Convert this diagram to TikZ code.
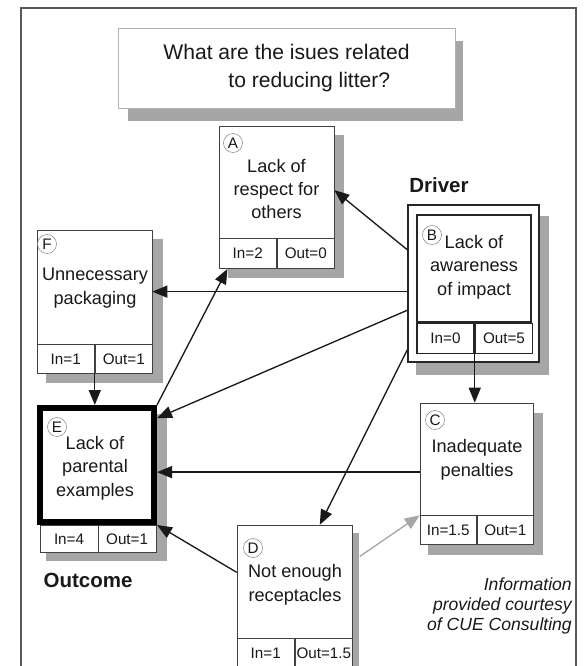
\documentclass[tikz,border=0pt]{standalone}
\usepackage{fontspec}
\setmainfont{Liberation Sans}
\usetikzlibrary{arrows.meta,calc,backgrounds}

\begin{document}
\begin{tikzpicture}[
    x=0.3mm, y=-0.3mm, text=black!90,
    card/.style={rectangle, draw=black!75, fill=white, line width=0.5pt, inner sep=0pt,
        minimum width=34.5mm, minimum height=33.6mm},
    cell/.style={rectangle, draw=black!75, fill=white, line width=0.5pt, inner sep=0pt,
        minimum width=17.25mm, minimum height=9mm, anchor=north west,
        font=\fontsize{13}{15}\selectfont},
    tag/.style={circle, draw=black!55, fill=white, line width=0.4pt, inner sep=0pt,
        minimum size=5.7mm, font=\fontsize{13}{15}\selectfont},
    boxtext/.style={align=center, inner sep=0pt, font=\fontsize{15.5}{20}\selectfont},
    heading/.style={inner sep=0pt, font=\fontsize{17.5}{20}\selectfont\bfseries},
    arr/.style={-{Triangle[length=4.5mm, width=3.6mm]}, line width=0.4mm, black!90},
    dropfill/.style={fill=black!35}
]
    \useasboundingbox (0,0) rectangle (587,666);
    \draw[black!65, line width=0.5mm] (21,680) |- (576,8) -- (576,680);

    % question
    \node[rectangle, draw=black!30, fill=white, line width=0.6pt, minimum width=101.1mm,
        minimum height=24mm, align=left, font=\fontsize{18}{23.8}\selectfont]
        (question) at (286.5,68) {What are the isues related\\\hspace*{19.5mm}to reducing litter?};

    % A
    \node[card] (A) at (276.5,182) {};
    \node[tag] (Atag) at (233,143) {A};
    \node[boxtext] (Atext) at (276.5,189) {Lack of\\respect for\\others};
    \node[cell] (Ain) at (A.south west) {In=2};
    \node[cell] (Aout) at (Ain.north east) {Out=0};

    % B (driver)
    \node[heading] (driver) at (439,185) {Driver};
    \node[card, draw=black!85, line width=0.45mm, minimum width=39.3mm, minimum height=47.1mm]
        (Bframe) at (473.5,283.5) {};
    \node[card, draw=black!85, line width=0.45mm, minimum width=34.2mm, minimum height=32.1mm]
        (B) at (474,268.5) {};
    \node[tag] (Btag) at (432,235) {B};
    \node[boxtext] (Btext) at (474,267) {Lack of\\awareness\\of impact};
    \node[cell, draw=black!85, line width=0.45mm, minimum width=17.1mm] (Bin) at (B.south west) {In=0};
    \node[cell, draw=black!85, line width=0.45mm, minimum width=17.1mm] (Bout) at (Bin.north east) {Out=5};

    % C
    \node[card, minimum width=33.9mm] (C) at (476.5,459) {};
    \node[tag] (Ctag) at (435,420) {C};
    \node[boxtext] (Ctext) at (477,460) {Inadequate\\penalties};
    \node[cell, minimum width=16.95mm, minimum height=8.7mm] (Cin) at (C.south west) {In=1.5};
    \node[cell, minimum width=16.95mm, minimum height=8.7mm] (Cout) at (Cin.north east) {Out=1};

    % D
    \node[card, minimum height=33.9mm] (D) at (294.5,581.5) {};
    \node[tag] (Dtag) at (253,548) {D};
    \node[boxtext] (Dtext) at (295,585) {Not enough\\receptacles};
    \node[cell] (Din) at (D.south west) {In=1};
    \node[cell] (Dout) at (Din.north east) {Out=1.5};

    % E (outcome)
    \node[card, draw=black, line width=1.8mm, minimum width=34.2mm, minimum height=34.2mm]
        (E) at (97,465) {};
    \node[tag] (Etag) at (57,427) {E};
    \node[boxtext] (Etext) at (95,468) {Lack of\\parental\\examples};
    \node[cell, xshift=0.9mm, minimum height=8.1mm] (Ein) at (E.south west) {In=4};
    \node[cell, minimum height=8.1mm] (Eout) at (Ein.north east) {Out=1};
    \node[heading] (outcome) at (88,580) {Outcome};

    % F
    \node[card, minimum height=34.2mm] (F) at (94.5,287) {};
    \node[tag] (Ftag) at (47,244) {F};
    \node[boxtext] (Ftext) at (95,288) {Unnecessary\\packaging};
    \node[cell, minimum height=8.7mm] (Fin) at (F.south west) {In=1};
    \node[cell, minimum height=8.7mm] (Fout) at (Fin.north east) {Out=1};

    \node[align=right, anchor=east, inner sep=0pt, font=\fontsize{15}{17}\selectfont\itshape]
        (courtesy) at (572,606) {Information\\provided courtesy\\of CUE Consulting};

    % links
    \draw[arr] (Bframe.153) -- (A.-8);
    \draw[arr] (Bframe.187) -- (Bframe.187 -| F.east);
    \draw[arr] (Bframe.202) -- (E.38);
    \draw[arr] (Bin.south east) -- (Bin.south east |- C.north);
    \draw[arr] (Bframe.225) -- (D.66);
    \draw[arr] (E.north east) -- (Ain.217);
    \draw[arr] (Fin.south east) -- (Fin.south east |- E.north);
    \draw[arr] (C.193) -- (C.193 -| E.east);
    \draw[arr] (D.171) -- (E.south east);
    \draw[arr, black!35, shorten <=2.7mm] (D.19) -- (C.south west);

    \begin{scope}[on background layer]
        \fill[dropfill] ($(question.north west)+(10,13)$) rectangle ($(question.south east)+(8,13)$);
        \fill[dropfill] ($(A.north west)+(9,9)$) rectangle ($(Aout.south east)+(9,9)$);
        \fill[dropfill] ($(Bframe.north west)+(9,12)$) rectangle ($(Bframe.south east)+(9,12)$);
        \fill[dropfill] ($(C.north west)+(8,10)$) rectangle ($(Cout.south east)+(9,10)$);
        \fill[dropfill] ($(D.north west)+(8,8)$) rectangle ($(Dout.south east)+(6,8)$);
        \fill[dropfill] ($(E.north west)+(9,9)$) rectangle ($(E.east |- Eout.south)+(10,8)$);
        \fill[dropfill] ($(F.north west)+(9,9)$) rectangle ($(Fout.south east)+(10,9)$);
    \end{scope}
\end{tikzpicture}
\end{document}
